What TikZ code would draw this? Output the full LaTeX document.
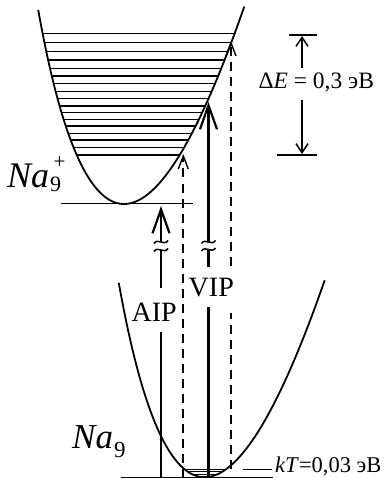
\documentclass[tikz,border=0pt]{standalone}
\usepackage{fontspec}
\setmainfont{Liberation Serif}
\usetikzlibrary{arrows.meta}
\begin{document}
\begin{tikzpicture}[x=1pt,y=-1pt,
  curve/.style={line width=1.8pt},
  lvl/.style={line width=1.4pt},
  shaft/.style={line width=2.6pt},
  dsh/.style={line width=1.7pt, dash pattern=on 9pt off 6pt},
  bigtip/.style={-{Straight Barb[length=24pt,width=17pt,line width=2.2pt]}},
  thintip/.style={-{Straight Barb[length=13pt,width=10pt,line width=1.4pt]}},
  dimarrow/.style={line width=1.5pt,-{Straight Barb[length=9pt,width=12pt,line width=1.5pt]}},
  brk/.pic={\draw[line width=1.5pt] (-7,1.5) .. controls (-3,-4.5) and (3,4.5) .. (7,-1.5);},
  lbl/.style={inner sep=0pt},
]
\useasboundingbox (0,0) rectangle (389,478);

% upper potential curve (ion)
\draw[curve] plot[domain=-102.4:103.3, samples=120, variable=\t]
  ({124+\t+0.00159*\t*\t},{204-0.0185*\t*\t});
\foreach \yy in {33.3,42.7,51.7,60,68.3,76,83.7,91.4,98.8,106,112.7,119.3,126,133.3,140,147.5,155}{
  \pgfmathsetmacro\ddy{204-\yy}
  \pgfmathsetmacro\ww{sqrt(\ddy/0.0185)}
  \pgfmathsetmacro\cx{124+0.086*\ddy}
  \draw[lvl] ({\cx-\ww},\yy) -- ({\cx+\ww},\yy);
}
\coordinate (ionL) at (61,203.5);
\coordinate (ionR) at (193,203.5);
\draw[line width=1.6pt] (ionL) -- (ionR);

% lower potential curve (neutral)
\draw[curve] plot[domain=-102.5:103.2, samples=120, variable=\t]
  ({204.6+\t+0.00159*\t*\t},{477.2-0.0185*\t*\t});
\foreach \yy in {469.3,471.7,474,476}{
  \pgfmathsetmacro\ddy{477.2-\yy}
  \pgfmathsetmacro\ww{sqrt(\ddy/0.0185)}
  \pgfmathsetmacro\cx{204.6+0.086*\ddy}
  \draw[line width=1.0pt] ({\cx-\ww},\yy) -- ({\cx+\ww},\yy);
}
\coordinate (neuL) at (120.7,477.3);
\coordinate (neuR) at (272.7,477.3);
\draw[line width=1.5pt] (neuL) -- (neuR);

% AIP arrow
\coordinate (a0) at (161,477.5);
\coordinate (a1) at (161,332);
\coordinate (a2) at (161,288);
\coordinate (a3) at (161,250);
\coordinate (a4) at (161,242);
\coordinate (a5) at (161,206);
\draw[shaft] (a0) -- (a1);
\draw[shaft] (a2) -- (a3);
\draw[shaft,bigtip] (a4) -- (a5);
\pic at (a3) {brk};
\pic at (a4) {brk};

% VIP arrow
\coordinate (v0) at (208.5,477.5);
\coordinate (v1) at (208.5,306.7);
\coordinate (v2) at (208.5,266.7);
\coordinate (v3) at (208.5,249.5);
\coordinate (v4) at (208.5,242);
\coordinate (v5) at (208.5,102);
\draw[shaft] (v0) -- (v1);
\draw[shaft] (v2) -- (v3);
\draw[shaft,bigtip] (v4) -- (v5);
\pic at (v3) {brk};
\pic at (v4) {brk};

% dashed arrows
\coordinate (d0) at (183.3,477.5);
\coordinate (d1) at (183.3,154);
\draw[dsh,thintip] (d0) -- (d1);
\coordinate (e0) at (231,469);
\coordinate (e1) at (231,313);
\coordinate (e2) at (231,266);
\coordinate (e3) at (231,41);
\draw[dsh] (e0) -- (e1);
\draw[dsh,thintip] (e2) -- (e3);

% Delta E bracket
\coordinate (dt1) at (289.3,35);
\coordinate (dt2) at (317.3,35);
\coordinate (db1) at (276.7,155);
\coordinate (db2) at (317.3,155);
\draw[line width=1.6pt] (dt1) -- (dt2);
\draw[line width=1.6pt] (db1) -- (db2);
\coordinate (du0) at (302,68.3);
\coordinate (du1) at (302,36);
\coordinate (dd0) at (302,100);
\coordinate (dd1) at (302,154);
\draw[dimarrow] (du0) -- (du1);
\draw[dimarrow] (dd0) -- (dd1);
\node[lbl,anchor=base west] (dE) at (258.3,88.3) {\fontsize{23.5}{24}\selectfont Δ\textit{E} = 0,3 эВ};

% kT
\coordinate (k0) at (242.7,469.3);
\coordinate (k1) at (271.7,469.3);
\draw[line width=1.6pt] (k0) -- (k1);
\node[lbl,anchor=base west] (kT) at (275,472.5) {\fontsize{22.5}{23}\selectfont\textit{kT}=0,03 эВ};

% labels
\node[lbl,anchor=base] (aip) at (154.2,321) {\fontsize{28}{28}\selectfont AIP};
\node[lbl,anchor=base] (vip) at (211.3,296) {\fontsize{28}{28}\selectfont VIP};

\node[lbl,anchor=base west] (naI) at (7,187) {\fontsize{36}{36}\selectfont\textit{Na}};
\node[lbl,anchor=base west] (naIsub) at (50,192) {\fontsize{22}{22}\selectfont 9};
\node[lbl,anchor=base] (naIsup) at (59.5,169) {\fontsize{21}{21}\selectfont +};

\node[lbl,anchor=base west] (naN) at (72,448) {\fontsize{35}{35}\selectfont\textit{Na}};
\node[lbl,anchor=base west] (naNsub) at (114,457) {\fontsize{23}{23}\selectfont 9};
\end{tikzpicture}
\end{document}
